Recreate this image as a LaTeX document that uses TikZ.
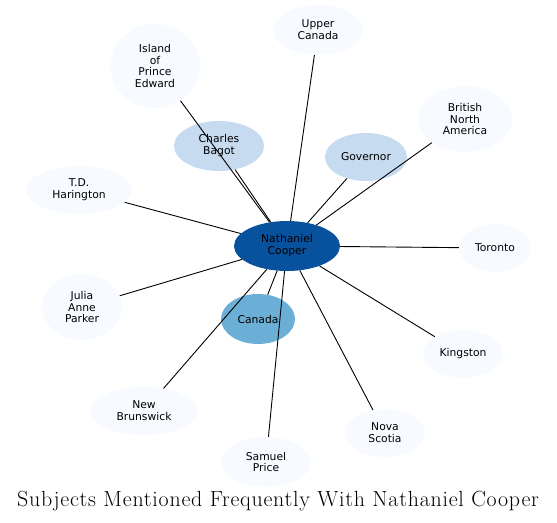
\documentclass[tikz,border=0pt]{standalone}
\usepackage{fontspec}
\newfontfamily\topicfont{DejaVu Sans}
\newfontfamily\titlefont[LetterSpace=3.5]{Latin Modern Roman}
\usetikzlibrary{shapes.geometric}
\definecolor{kbluedark}{HTML}{08519C}
\definecolor{kbluemid}{HTML}{6BAED6}
\definecolor{kbluelight}{HTML}{C6DBEF}
\definecolor{kbluepale}{HTML}{F7FBFF}
\tikzset{
  topic/.style={ellipse, draw=none, inner sep=0pt, align=center,
                font=\topicfont\fontsize{10.8}{12}\selectfont},
  tcentre/.style={topic, fill=kbluedark},
  tmid/.style={topic, fill=kbluemid},
  tlight/.style={topic, fill=kbluelight},
  tpale/.style={topic, fill=kbluepale},
  link/.style={black, line width=0.9bp},
}

\begin{document}
\begin{tikzpicture}[x=1bp, y=-1bp]

  \useasboundingbox (0,0) rectangle (557,523);

  \node[tcentre, minimum width=106bp, minimum height=50bp] (cooper) at (287,246) {Nathaniel\\Cooper};

  \node[tmid, minimum width=74bp, minimum height=50bp] (canada) at (258,319) {Canada};
  \node[tlight, minimum width=90bp, minimum height=50bp] (bagot) at (219,146) {Charles\\Bagot};
  \node[tlight, minimum width=82bp, minimum height=48bp] (governor) at (366,157) {Governor};

  \node[tpale, minimum width=90bp, minimum height=50bp] (upper) at (318,30) {Upper\\Canada};
  \node[tpale, minimum width=90bp, minimum height=84bp] (island) at (155,66) {Island\\of\\Prince\\Edward};
  \node[tpale, minimum width=94bp, minimum height=66bp] (bna) at (465,119) {British\\North\\America};
  \node[tpale, minimum width=106bp, minimum height=48bp] (harington) at (79,190) {T.D.\\Harington};
  \node[tpale, minimum width=72bp, minimum height=48bp] (toronto) at (495,248) {Toronto};
  \node[tpale, minimum width=80bp, minimum height=66bp] (julia) at (82,307) {Julia\\Anne\\Parker};
  \node[tpale, minimum width=80bp, minimum height=48bp] (kingston) at (463,354) {Kingston};
  \node[tpale, minimum width=108bp, minimum height=48bp] (brunswick) at (144,411) {New\\Brunswick};
  \node[tpale, minimum width=80bp, minimum height=48bp] (nova) at (385,433) {Nova\\Scotia};
  \node[tpale, minimum width=90bp, minimum height=50bp] (price) at (266,462) {Samuel\\Price};

  % links drawn over the nodes
  \foreach \t in {canada, bagot, governor, upper, island, bna, harington,
                  toronto, julia, kingston, brunswick, nova, price}
    \draw[link] (cooper) -- (\t);

  \node[font=\titlefont\fontsize{22}{26}\selectfont] (title) at (278,501) {Subjects Mentioned Frequently With Nathaniel Cooper};

\end{tikzpicture}
\end{document}
